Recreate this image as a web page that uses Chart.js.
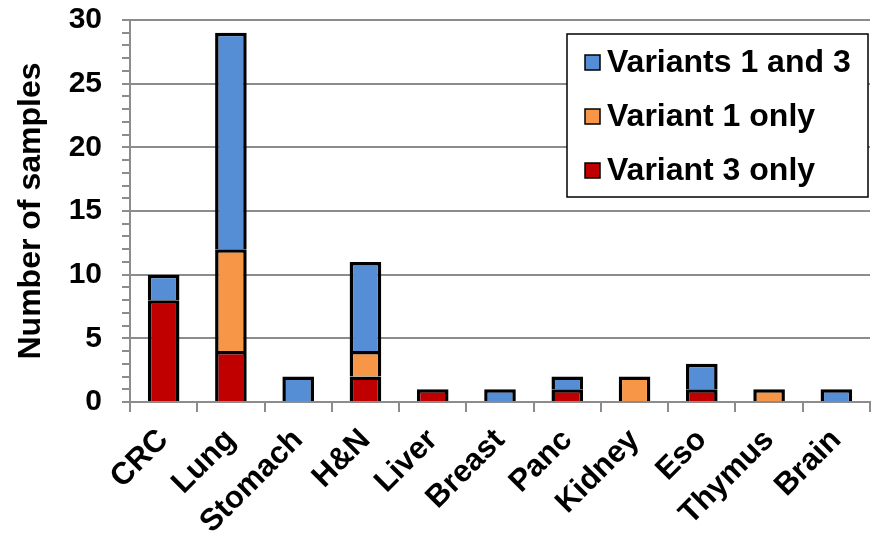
<!DOCTYPE html>
<html>
<head>
<meta charset="utf-8">
<script src="https://cdn.jsdelivr.net/npm/chart.js@4"></script>
<style>
  body { margin: 0; background: #fff; }
  #wrap { width: 876px; height: 539px; }
</style>
</head>
<body>
<div id="wrap"><canvas id="chart"></canvas></div>
<script>
var categories = ["CRC", "Lung", "Stomach", "H&N", "Liver", "Breast", "Panc", "Kidney", "Eso", "Thymus", "Brain"];
var variant3Only = [8, 4, 0, 2, 1, 0, 1, 0, 1, 0, 0];
var variant1Only = [0, 8, 0, 2, 0, 0, 0, 2, 0, 1, 0];
var variants1And3 = [2, 17, 2, 7, 0, 1, 1, 0, 2, 0, 1];
var yTicks = [0, 5, 10, 15, 20, 25, 30];

var FONT = "'Liberation Sans', Arial, sans-serif";
var GRAY = "#8c8c8c";

function noZero(arr) {
  return arr.map(function (v) { return v === 0 ? null : v; });
}

// legend box drawn inside the plot, top right
var boxLegend = {
  id: "boxLegend",
  afterDraw: function (chart) {
    var ctx = chart.ctx;
    var x = 567, y = 34, w = 301, h = 163;
    ctx.save();
    ctx.fillStyle = "#fff";
    ctx.fillRect(x, y, w, h);
    ctx.strokeStyle = "#000";
    ctx.lineWidth = 1.5;
    ctx.strokeRect(x, y, w, h);
    ctx.font = "bold 32px " + FONT;
    ctx.textBaseline = "middle";
    var sets = chart.data.datasets.slice().reverse();
    sets.forEach(function (ds, i) {
      var cy = 62 + i * 54;
      ctx.fillStyle = ds.backgroundColor;
      ctx.fillRect(585, cy - 7, 15, 15);
      ctx.lineWidth = 1.5;
      ctx.strokeStyle = "#000";
      ctx.strokeRect(585, cy - 7, 15, 15);
      ctx.fillStyle = "#000";
      ctx.fillText(ds.label, 607, cy + 1);
    });
    ctx.restore();
  }
};

document.addEventListener("DOMContentLoaded", function () {
  var ctx = document.getElementById("chart").getContext("2d");
  new Chart(ctx, {
    type: "bar",
    data: {
      labels: categories,
      datasets: [
        {
          label: "Variant 3 only",
          data: noZero(variant3Only),
          backgroundColor: "#c00000",
        },
        {
          label: "Variant 1 only",
          data: noZero(variant1Only),
          backgroundColor: "#f79646",
        },
        {
          label: "Variants 1 and 3",
          data: noZero(variants1And3),
          backgroundColor: "#558ed5",
        },
      ],
    },
    options: {
      responsive: true,
      maintainAspectRatio: false,
      animation: false,
      layout: { padding: { top: 20, right: 6, left: 0, bottom: 0 } },
      datasets: {
        bar: {
          borderColor: "#000",
          borderWidth: 3.5,
          barPercentage: 0.47,
          categoryPercentage: 1,
        },
      },
      plugins: {
        legend: { display: false },
        tooltip: { enabled: false },
      },
      scales: {
        x: {
          stacked: true,
          afterFit: function (s) { s.height = 137; },
          border: { color: GRAY, width: 2 },
          grid: {
            offset: true,
            drawOnChartArea: false,
            tickLength: 10,
            color: GRAY,
            lineWidth: 2,
          },
          ticks: {
            color: "#000",
            font: { family: FONT, size: 31, weight: "bold" },
            minRotation: 45,
            maxRotation: 45,
            autoSkip: false,
            padding: 10,
          },
        },
        y: {
          stacked: true,
          min: 0,
          max: 30,
          afterFit: function (s) {
            s.width = 130;
            s.paddingTop = 0;
            s.paddingBottom = 0;
          },
          border: { color: GRAY, width: 2 },
          title: {
            display: true,
            text: "Number of samples",
            color: "#000",
            font: { family: FONT, size: 32, weight: "bold" },
            padding: { top: 12, bottom: 0 },
          },
          grid: {
            tickLength: 8,
            lineWidth: 2,
            tickColor: GRAY,
            color: function (c) {
              var v = c.tick.value;
              return yTicks.indexOf(v) > 0 ? GRAY : "rgba(0,0,0,0)";
            },
          },
          ticks: {
            stepSize: 1,
            autoSkip: false,
            color: "#000",
            padding: 20,
            font: { family: FONT, size: 30, weight: "bold" },
            callback: function (v) { return yTicks.indexOf(v) >= 0 ? v : ""; },
          },
        },
      },
    },
    plugins: [boxLegend],
  });
});
</script>
</body>
</html>
